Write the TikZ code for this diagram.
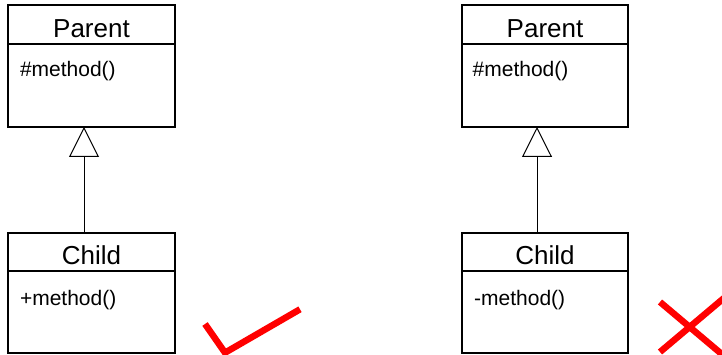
\documentclass[tikz,border=0pt]{standalone}
\usepackage{fontspec}
\setmainfont{Liberation Sans}
\usetikzlibrary{arrows.meta,calc}
\begin{document}
\begin{tikzpicture}[x=1pt,y=-1pt,
  classbox/.style={draw=black, line width=1.2pt, inner sep=0pt, outer sep=0pt, minimum width=167pt, anchor=north west},
  divider/.style={draw=black, line width=1.2pt},
  title/.style={font=\fontsize{26}{26}\selectfont, anchor=base, inner sep=0pt},
  member/.style={font=\fontsize{21}{21}\selectfont, anchor=base west, inner sep=0pt},
  inherit/.style={draw=black, line width=1pt, -{Triangle[open, length=30pt, width=30pt, line width=1pt]}},
  redmark/.style={draw=red, line width=6.5pt, line join=miter}]
\useasboundingbox (0,0) rectangle (722,355);
% left pair
\node[classbox, minimum height=122pt] (p1) at (8,5) {};
\draw[divider] ($(p1.north west)+(0,39)$) -- ($(p1.north east)+(0,39)$);
\node[title] (p1t) at ($(p1.north)+(0,32.3)$) {Parent};
\node[member] (p1m) at ($(p1.north west)+(11.8,72)$) {\#method()};
\node[classbox, minimum height=120pt] (c1) at (8,233) {};
\draw[divider] ($(c1.north west)+(0,38)$) -- ($(c1.north east)+(0,38)$);
\node[title] (c1t) at ($(c1.north)+(0,32)$) {Child};
\node[member] (c1m) at ($(c1.north west)+(11.8,72)$) {+method()};
\draw[inherit] ($(c1.north west)+(76,0)$) -- ($(p1.south west)+(76,0)$);
% right pair
\node[classbox, minimum height=122pt, minimum width=166pt] (p2) at (462,5) {};
\draw[divider] ($(p2.north west)+(0,39)$) -- ($(p2.north east)+(0,39)$);
\node[title] (p2t) at ($(p2.north)+(0,32.3)$) {Parent};
\node[member] (p2m) at ($(p2.north west)+(10.5,72)$) {\#method()};
\node[classbox, minimum height=120pt, minimum width=166pt] (c2) at (462,233) {};
\draw[divider] ($(c2.north west)+(0,38)$) -- ($(c2.north east)+(0,38)$);
\node[title] (c2t) at ($(c2.north)+(0,32)$) {Child};
\node[member] (c2m) at ($(c2.north west)+(12,72)$) {-method()};
\draw[inherit] ($(c2.north west)+(75,0)$) -- ($(p2.south west)+(75,0)$);
% check mark and cross
\draw[redmark] (205,324) -- (225,352.7) -- (300,309.3);
\draw[redmark] (660,302) -- (724,356);
\draw[redmark] (660,352) -- (724,298);
\end{tikzpicture}
\end{document}
